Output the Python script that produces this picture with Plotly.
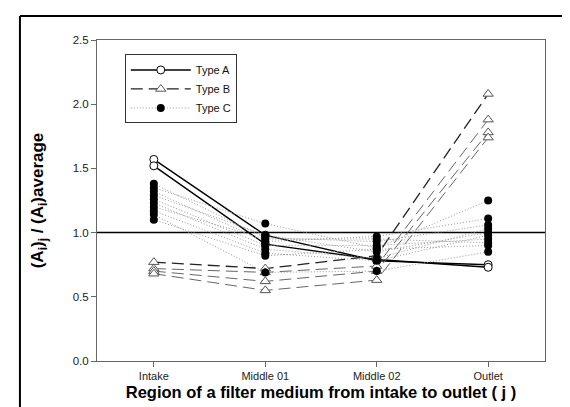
import plotly.graph_objects as go

regions = ["Intake", "Middle 01", "Middle 02", "Outlet"]

type_a = [
    [1.57, 0.98, 0.78, 0.75],
    [1.52, 0.91, 0.79, 0.73],
]
type_b = [
    [0.77, 0.72, 0.82, 2.08],
    [0.72, 0.69, 0.74, 1.88],
    [0.70, 0.62, 0.70, 1.78],
    [0.68, 0.55, 0.63, 1.74],
]
type_c = [
    [1.38, 0.96, 0.93, 1.06],
    [1.35, 1.07, 0.88, 1.25],
    [1.32, 0.93, 0.97, 1.11],
    [1.29, 0.98, 0.85, 1.00],
    [1.26, 0.90, 0.90, 0.95],
    [1.23, 0.87, 0.80, 1.03],
    [1.20, 0.95, 0.95, 0.92],
    [1.17, 0.84, 0.78, 0.98],
    [1.14, 0.69, 0.70, 0.85],
    [1.10, 0.82, 0.87, 0.90],
]
ref_level = 1.0
y_ticks = [0.0, 0.5, 1.0, 1.5, 2.0, 2.5]

FONT = "Arial, Liberation Sans, sans-serif"
x_idx = list(range(len(regions)))

fig = go.Figure()

for k, ys in enumerate(type_a):
    fig.add_trace(go.Scatter(
        x=x_idx, y=ys, mode="lines+markers", name="Type A",
        legendgroup="A", showlegend=(k == 0),
        line=dict(color="black", width=1.4, dash="solid"),
        marker=dict(symbol="circle", size=8, color="white",
                    line=dict(color="black", width=1)),
    ))

for k, ys in enumerate(type_b):
    fig.add_trace(go.Scatter(
        x=x_idx, y=ys, mode="lines+markers", name="Type B",
        legendgroup="B", showlegend=(k == 0),
        line=dict(color="#222222" if k == 0 else "#666666",
                  width=1.3 if k == 0 else 1, dash="12px,6px"),
        marker=dict(symbol="triangle-up", size=9, color="white",
                    line=dict(color="#555555", width=1)),
    ))

for k, ys in enumerate(type_c):
    fig.add_trace(go.Scatter(
        x=x_idx, y=ys, mode="lines+markers", name="Type C",
        legendgroup="C", showlegend=(k == 0),
        line=dict(color="#999999", width=1, dash="1px,2px"),
        marker=dict(symbol="circle", size=8, color="black",
                    line=dict(color="black", width=0)),
    ))

fig.add_hline(y=ref_level, line=dict(color="black", width=1.5), layer="below")

# outer frame lines (top and left) of the original figure image
fig.add_shape(type="line", xref="paper", yref="paper",
              x0=-0.172, x1=1.08, y0=1.075, y1=1.075,
              line=dict(color="black", width=2))
fig.add_shape(type="line", xref="paper", yref="paper",
              x0=-0.172, x1=-0.172, y0=1.075, y1=-0.18,
              line=dict(color="black", width=2))

fig.update_layout(
    width=570, height=407,
    margin=dict(l=89, r=33, t=32, b=54),
    paper_bgcolor="white", plot_bgcolor="white",
    font=dict(family=FONT, size=11, color="#222222"),
    showlegend=True,
    legend=dict(
        x=0.062, y=0.955, xanchor="left", yanchor="top",
        bgcolor="white", bordercolor="#333333", borderwidth=1,
        font=dict(family=FONT, size=11, color="#111111"),
        itemwidth=60, tracegroupgap=0, traceorder="normal",
    ),
)

fig.update_xaxes(
    range=[-0.51, 3.51],
    tickmode="array", tickvals=x_idx, ticktext=regions,
    showgrid=False, zeroline=False,
    showline=True, linecolor="#666666", linewidth=1, mirror=True,
    ticks="outside", ticklen=5, tickcolor="#666666",
    tickfont=dict(family=FONT, size=11, color="#222222"),
    title=dict(text="Region of a filter medium from intake to outlet ( j )",
               font=dict(family=FONT, size=16.5, color="black", weight="bold"),
               standoff=5),
    automargin=False,
)
fig.update_yaxes(
    range=[0, 2.5],
    tickmode="array", tickvals=y_ticks, ticktext=[f"{v:.1f}" for v in y_ticks],
    showgrid=False, zeroline=False,
    showline=True, linecolor="#666666", linewidth=1, mirror=True,
    ticks="outside", ticklen=5, tickcolor="#666666",
    tickfont=dict(family=FONT, size=11.5, color="#222222"),
    title=dict(text="(A<sub>i</sub>)<sub>j</sub> / (A<sub>i</sub>)average",
               font=dict(family=FONT, size=17, color="black", weight="bold"),
               standoff=24),
    automargin=False,
)

fig.write_html("out.html")
